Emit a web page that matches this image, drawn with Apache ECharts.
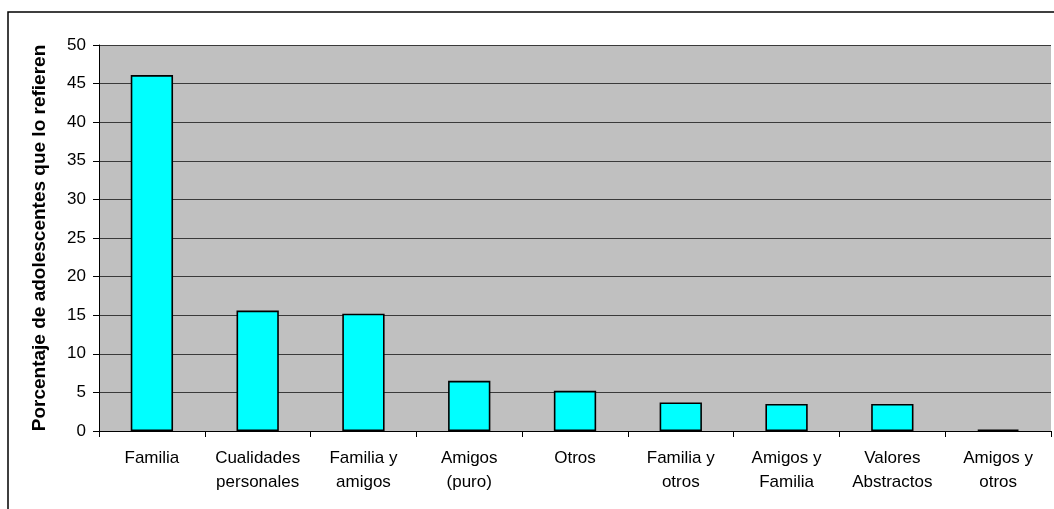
<!DOCTYPE html>
<html>
<head>
<meta charset="utf-8">
<style>
  html, body { margin: 0; padding: 0; background: #fff; }
  #chart { width: 1054px; height: 509px; }
</style>
<script src="https://cdn.jsdelivr.net/npm/echarts@6/dist/echarts.min.js"></script>
</head>
<body>
<div id="chart"></div>
<script>
// Referentes citados por los adolescentes (porcentaje)
const categories = [
  'Familia', 'Cualidades\npersonales', 'Familia y\namigos', 'Amigos\n(puro)',
  'Otros', 'Familia y\notros', 'Amigos y\nFamilia', 'Valores\nAbstractos', 'Amigos y\notros'
];
const percentages = [46.1, 15.6, 15.2, 6.5, 5.2, 3.7, 3.5, 3.5, 0.2];
const yAxisTitle = 'Porcentaje de adolescentes que lo refieren';

const FONT = '"Liberation Sans", Arial, sans-serif';
const chart = echarts.init(document.getElementById('chart'), null, { renderer: 'canvas' });

chart.setOption({
  animation: false,
  backgroundColor: '#ffffff',
  textStyle: { fontFamily: FONT, color: '#000' },
  graphic: [{
    type: 'rect',
    z: -1,
    shape: { x: 8, y: 12, width: 1200, height: 700 },
    style: { fill: 'none', stroke: '#000', lineWidth: 1.5 }
  }],
  grid: {
    left: 99, top: 45, right: 3, bottom: 78,
    show: true, backgroundColor: '#c0c0c0', borderWidth: 0
  },
  xAxis: {
    type: 'category',
    data: categories,
    axisLine: { lineStyle: { color: '#000', width: 1 } },
    axisTick: { show: true, length: 6, alignWithLabel: false, lineStyle: { color: '#000' } },
    axisLabel: {
      color: '#000', fontFamily: FONT, fontSize: 17, lineHeight: 24,
      margin: 15, interval: 0
    }
  },
  yAxis: {
    type: 'value',
    min: 0, max: 50, interval: 5,
    name: yAxisTitle,
    nameLocation: 'middle',
    nameGap: 50,
    nameTextStyle: { color: '#000', fontFamily: FONT, fontSize: 19, fontWeight: 'bold' },
    axisLine: { show: true, lineStyle: { color: '#000', width: 1 } },
    axisTick: { show: true, length: 6, lineStyle: { color: '#000' } },
    axisLabel: { color: '#000', fontFamily: FONT, fontSize: 17, margin: 13 },
    splitLine: { show: true, lineStyle: { color: '#3a3a3a', width: 1 } }
  },
  series: [{
    type: 'bar',
    data: percentages,
    barWidth: '40%',
    itemStyle: { color: '#00ffff', borderColor: '#000', borderWidth: 1.6 }
  }]
});
</script>
</body>
</html>
